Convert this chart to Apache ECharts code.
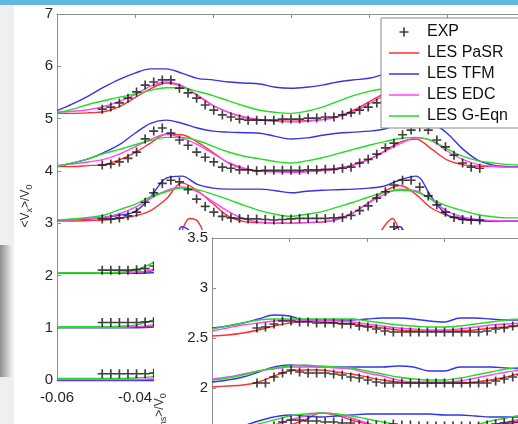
<!DOCTYPE html>
<html><head><meta charset="utf-8">
<script src="https://cdn.jsdelivr.net/npm/echarts@6/dist/echarts.min.js"></script>
<style>html,body{margin:0;padding:0;background:#fff;overflow:hidden}#c{width:518px;height:424px}</style>
</head><body><div id="c"></div>
<script>
// ---------- data ----------
// main chart model x grid
const X = [-0.06,-0.056,-0.052,-0.048,-0.044,-0.04,-0.036,-0.032,-0.028,-0.024,-0.02,-0.016,-0.012,-0.008,-0.004,0,0.004,0.008,0.012,0.016,0.02,0.024,0.028,0.032,0.036,0.04,0.044,0.048,0.052,0.056,0.06];
// level-2 profile x grid (narrow peaks)
const L2X = [-0.06,-0.052,-0.044,-0.04,-0.036,-0.032,-0.03,-0.028,-0.026,-0.024,-0.022,-0.02,-0.014,-0.006,0,0.006,0.014,0.02,0.022,0.024,0.026,0.028,0.03,0.032,0.036,0.04,0.044,0.052,0.06];
// experiment x positions
const EX = [-0.0484,-0.0462,-0.044,-0.0418,-0.0396,-0.0374,-0.0352,-0.033,-0.0308,-0.0286,-0.0264,-0.0242,-0.022,-0.0198,-0.0176,-0.0154,-0.0132,-0.011,-0.0088,-0.0066,-0.0044,-0.0022,0,0.0022,0.0044,0.0066,0.0088,0.011,0.0132,0.0154,0.0176,0.0198,0.022,0.0242,0.0264,0.0286,0.0308,0.033,0.0352,0.0374,0.0396,0.0418,0.044,0.0462,0.0484];
// inset x grid
const IX = [-0.06,-0.056,-0.052,-0.048,-0.044,-0.04,-0.036,-0.032,-0.028,-0.024,-0.02,-0.016,-0.012,-0.008,-0.004,0,0.004,0.008,0.012,0.016,0.02,0.024];

// main: <Vx>/V0 profiles (offset levels 5..0)
const PASR_L5 = [5.10,5.10,5.11,5.13,5.23,5.40,5.57,5.68,5.62,5.45,5.25,5.12,5.03,4.98,4.96,4.95,4.96,4.98,5.04,5.16,5.32,5.48,5.62,5.68,5.60,5.42,5.25,5.13,5.08,5.06,5.05];
const TFM_L5  = [5.15,5.28,5.43,5.60,5.75,5.87,5.95,5.95,5.87,5.77,5.74,5.70,5.68,5.66,5.60,5.58,5.60,5.64,5.70,5.74,5.77,5.85,5.93,5.97,5.93,5.77,5.58,5.40,5.27,5.17,5.12];
const EDC_L5  = [5.12,5.14,5.17,5.23,5.33,5.46,5.62,5.70,5.63,5.44,5.25,5.12,5.02,4.97,4.95,4.94,4.95,4.98,5.04,5.13,5.28,5.45,5.60,5.68,5.62,5.45,5.27,5.14,5.09,5.07,5.06];
const GEQN_L5 = [5.11,5.18,5.27,5.34,5.41,5.47,5.54,5.59,5.59,5.52,5.44,5.34,5.24,5.16,5.12,5.10,5.14,5.22,5.33,5.44,5.52,5.57,5.59,5.59,5.54,5.46,5.36,5.26,5.18,5.13,5.10];

const PASR_L4 = [4.08,4.08,4.10,4.12,4.21,4.35,4.53,4.70,4.69,4.55,4.35,4.15,4.04,4.00,3.99,3.98,3.99,4.01,4.05,4.11,4.22,4.38,4.55,4.61,4.42,4.21,4.12,4.09,4.08,4.07,4.07];
const TFM_L4  = [4.08,4.15,4.23,4.35,4.50,4.72,4.91,4.97,4.91,4.82,4.76,4.74,4.73,4.72,4.66,4.61,4.63,4.68,4.72,4.74,4.76,4.80,4.90,4.97,4.92,4.72,4.42,4.20,4.11,4.08,4.07];
const EDC_L4  = [4.10,4.13,4.17,4.22,4.32,4.46,4.60,4.70,4.63,4.50,4.33,4.16,4.05,3.99,3.98,3.97,3.98,4.00,4.04,4.12,4.22,4.37,4.52,4.63,4.58,4.38,4.22,4.12,4.09,4.07,4.07];
const GEQN_L4 = [4.08,4.15,4.23,4.33,4.41,4.50,4.58,4.64,4.64,4.58,4.47,4.36,4.28,4.23,4.18,4.15,4.19,4.25,4.33,4.41,4.49,4.56,4.62,4.64,4.58,4.42,4.28,4.19,4.15,4.12,4.11];

const PASR_L3 = [3.04,3.04,3.05,3.06,3.09,3.14,3.24,3.46,3.77,3.62,3.37,3.13,3.03,3.01,3.00,3.00,3.01,3.02,3.08,3.20,3.40,3.61,3.72,3.55,3.29,3.15,3.07,3.05,3.04,3.04,3.04];
const TFM_L3  = [3.06,3.07,3.08,3.11,3.15,3.22,3.50,3.86,3.90,3.74,3.67,3.65,3.65,3.65,3.62,3.58,3.61,3.63,3.64,3.65,3.67,3.71,3.83,3.90,3.50,3.16,3.09,3.05,3.04,3.04,3.04];
const EDC_L3  = [3.06,3.07,3.09,3.11,3.18,3.30,3.47,3.62,3.69,3.60,3.41,3.22,3.08,3.02,3.00,3.00,3.01,3.03,3.07,3.20,3.39,3.55,3.65,3.62,3.45,3.23,3.12,3.07,3.05,3.04,3.04];
const GEQN_L3 = [3.06,3.08,3.11,3.15,3.26,3.36,3.50,3.60,3.67,3.64,3.55,3.45,3.34,3.24,3.17,3.13,3.17,3.22,3.31,3.40,3.50,3.59,3.63,3.60,3.46,3.33,3.24,3.16,3.12,3.10,3.10];

const PASR_L2 = [2.05,2.05,2.05,2.06,2.08,2.20,2.45,2.85,3.09,3.04,2.75,2.45,2.12,2.05,2.04,2.05,2.12,2.45,2.70,2.95,3.09,2.80,2.45,2.20,2.08,2.06,2.05,2.05,2.05];
const TFM_L2  = [2.04,2.04,2.04,2.04,2.05,2.10,2.40,2.93,2.85,2.50,2.35,2.30,2.28,2.28,2.25,2.28,2.28,2.30,2.40,2.55,2.85,2.93,2.45,2.15,2.06,2.05,2.04,2.04,2.04];
const EDC_L2  = [2.05,2.05,2.05,2.06,2.10,2.25,2.40,2.55,2.65,2.65,2.55,2.45,2.20,2.07,2.05,2.07,2.20,2.45,2.55,2.65,2.65,2.55,2.40,2.25,2.10,2.06,2.05,2.05,2.05];
const GEQN_L2 = [2.05,2.05,2.06,2.10,2.22,2.38,2.45,2.52,2.57,2.60,2.60,2.58,2.45,2.30,2.25,2.30,2.45,2.58,2.60,2.60,2.57,2.52,2.45,2.38,2.22,2.10,2.06,2.05,2.05];

const PASR_L1 = [1.01,1.01,1.01,1.01,1.01,1.01,1.02,1.06];
const TFM_L1  = [1.00,1.00,1.00,1.00,1.00,1.00,1.01,1.03];
const EDC_L1  = [1.01,1.01,1.01,1.01,1.01,1.02,1.05,1.10];
const GEQN_L1 = [1.02,1.02,1.02,1.02,1.03,1.05,1.13,1.28];

const PASR_L0 = [0.00,0.00,0.00,0.00,0.00,0.00,0.01,0.03];
const TFM_L0  = [-0.01,-0.01,-0.01,-0.01,-0.01,-0.01,-0.01,0.00];
const EDC_L0  = [0.01,0.01,0.01,0.01,0.01,0.01,0.02,0.04];
const GEQN_L0 = [0.03,0.03,0.03,0.03,0.03,0.04,0.06,0.10];

const EXP_L5 = [5.18,5.22,5.30,5.39,5.51,5.64,5.70,5.74,5.74,5.58,5.49,5.39,5.26,5.16,5.07,5.03,4.99,4.97,4.97,4.97,4.97,4.99,4.99,4.99,5.01,5.01,5.03,5.03,5.07,5.11,5.16,5.22,5.30,5.40,5.50,5.62,5.70,5.74,5.70,5.58,5.45,5.32,5.20,5.12,5.10];
const EXP_L4 = [4.11,4.13,4.17,4.24,4.36,4.61,4.76,4.82,4.72,4.59,4.49,4.36,4.26,4.17,4.07,4.05,4.02,4.02,4.00,4.01,4.01,4.01,4.01,4.01,4.02,4.02,4.03,4.03,4.05,4.07,4.15,4.22,4.32,4.44,4.53,4.69,4.78,4.84,4.78,4.59,4.46,4.30,4.15,4.07,4.05];
const EXP_L3 = [3.08,3.08,3.10,3.14,3.21,3.40,3.58,3.76,3.82,3.79,3.64,3.46,3.32,3.21,3.13,3.10,3.09,3.08,3.08,3.07,3.06,3.07,3.08,3.09,3.09,3.09,3.09,3.10,3.11,3.15,3.24,3.33,3.48,3.60,3.73,3.82,3.82,3.69,3.52,3.35,3.21,3.11,3.07,3.06,3.06];
const EXP_L2 = [2.10,2.10,2.10,2.10,2.11,2.13,2.18,2.35,2.60,2.78,2.75,2.55,2.38,2.25,2.18,2.14,2.12,2.11,2.10,2.10,2.10,2.10,2.10,2.10,2.10,2.10,2.11,2.12,2.14,2.18,2.25,2.38,2.55,2.75,2.93,2.80,2.55,2.35,2.20,2.14,2.11,2.10,2.10,2.10,2.10];
const EXP_L1 = [1.10,1.10,1.10,1.10,1.10,1.11,1.12];
const EXP_L0 = [0.12,0.12,0.12,0.12,0.12,0.12,0.13];

// inset: <Vrms>/V0 profiles
const I_PASR_25 = [2.52,2.53,2.55,2.58,2.62,2.65,2.67,2.66,2.65,2.64,2.62,2.60,2.58,2.57,2.57,2.57,2.57,2.58,2.60,2.61,2.62,2.63];
const I_TFM_25  = [2.60,2.62,2.65,2.69,2.73,2.72,2.68,2.68,2.68,2.68,2.69,2.70,2.70,2.69,2.67,2.66,2.70,2.70,2.69,2.68,2.68,2.69];
const I_EDC_25  = [2.57,2.60,2.63,2.65,2.67,2.68,2.68,2.67,2.67,2.66,2.64,2.62,2.60,2.59,2.58,2.58,2.59,2.61,2.63,2.64,2.65,2.66];
const I_GEQN_25 = [2.59,2.62,2.65,2.68,2.69,2.69,2.69,2.69,2.69,2.69,2.67,2.65,2.63,2.62,2.61,2.61,2.62,2.64,2.66,2.68,2.69,2.70];

const I_PASR_2 = [2.01,2.02,2.03,2.06,2.12,2.17,2.18,2.18,2.16,2.14,2.11,2.08,2.06,2.05,2.05,2.05,2.05,2.06,2.08,2.11,2.15,2.17];
const I_TFM_2  = [2.06,2.08,2.11,2.16,2.21,2.23,2.22,2.21,2.21,2.21,2.21,2.21,2.22,2.21,2.17,2.17,2.21,2.21,2.21,2.20,2.19,2.19];
const I_EDC_2  = [2.09,2.11,2.14,2.17,2.19,2.21,2.21,2.21,2.20,2.19,2.15,2.12,2.08,2.06,2.06,2.06,2.07,2.10,2.13,2.16,2.18,2.19];
const I_GEQN_2 = [2.08,2.10,2.13,2.17,2.20,2.22,2.23,2.22,2.21,2.20,2.17,2.14,2.11,2.09,2.08,2.08,2.10,2.13,2.16,2.19,2.21,2.22];

const I_PASR_15 = [1.45,1.47,1.50,1.54,1.58,1.63,1.68,1.75,1.73,1.68,1.64,1.60,1.57,1.56,1.55,1.55,1.56,1.58,1.61,1.64,1.66,1.68];
const I_TFM_15  = [1.55,1.58,1.62,1.67,1.71,1.73,1.72,1.71,1.72,1.73,1.74,1.74,1.74,1.74,1.74,1.73,1.73,1.72,1.71,1.71,1.71,1.71];
const I_EDC_15  = [1.50,1.52,1.55,1.59,1.63,1.68,1.72,1.75,1.74,1.70,1.65,1.61,1.58,1.57,1.56,1.56,1.57,1.60,1.63,1.66,1.69,1.70];
const I_GEQN_15 = [1.52,1.55,1.59,1.64,1.68,1.72,1.74,1.75,1.74,1.72,1.69,1.66,1.63,1.60,1.59,1.59,1.60,1.63,1.67,1.70,1.73,1.74];

const I_EXP_25 = [2.60,2.61,2.64,2.67,2.67,2.66,2.66,2.65,2.65,2.65,2.64,2.64,2.62,2.61,2.59,2.57,2.56,2.56,2.56,2.56,2.56,2.56,2.56,2.56,2.56,2.56,2.56,2.57,2.59,2.60,2.62,2.63];
const I_EXP_2  = [2.05,2.05,2.11,2.15,2.18,2.16,2.15,2.15,2.15,2.14,2.13,2.11,2.10,2.08,2.06,2.05,2.05,2.05,2.05,2.05,2.05,2.05,2.05,2.05,2.05,2.05,2.05,2.05,2.07,2.09,2.11,2.13];
const I_EXP_15 = [1.55,1.58,1.62,1.66,1.68,1.68,1.67,1.67,1.66,1.66,1.65,1.65,1.63,1.63,1.63,1.63,1.64,1.63,1.63,1.62,1.62,1.62,1.62,1.62,1.62,1.62,1.62,1.63,1.64,1.65,1.66,1.67];

const X_TICKS = {min:-0.06, max:0.06, interval:0.02};
const MAIN_Y = {min:0, max:7, interval:1};
const INSET_Y = {min:0, max:3.5, interval:0.5};

// ---------- chart ----------
const FONT = "'Liberation Sans', Arial, Helvetica, sans-serif";
const AX = '#8e8e8e';
const PLUS = 'path://M-1.5,-8L1.5,-8L1.5,-1.5L8,-1.5L8,1.5L1.5,1.5L1.5,8L-1.5,8L-1.5,1.5L-8,1.5L-8,-1.5L-1.5,-1.5Z';
const PLUS_LEG = PLUS + 'M-12.5,-12.5L-12.45,-12.5L-12.5,-12.45ZM12.5,12.5L12.45,12.5L12.5,12.45Z';
const LINE_LEG = 'path://M0,6.25L30,6.25L30,7.75L0,7.75Z';
const COLORS = {pasr:'#ff3030', tfm:'#3535e6', edc:'#ff45ff', geqn:'#22dd22'};
const NAMES = {pasr:'LES PaSR', tfm:'LES TFM', edc:'LES EDC', geqn:'LES G-Eqn'};

const MAIN = [
  {x:X,   pasr:PASR_L5, tfm:TFM_L5, edc:EDC_L5, geqn:GEQN_L5},
  {x:X,   pasr:PASR_L4, tfm:TFM_L4, edc:EDC_L4, geqn:GEQN_L4},
  {x:X,   pasr:PASR_L3, tfm:TFM_L3, edc:EDC_L3, geqn:GEQN_L3},
  {x:L2X, pasr:PASR_L2, tfm:TFM_L2, edc:EDC_L2, geqn:GEQN_L2},
  {x:X,   pasr:PASR_L1, tfm:TFM_L1, edc:EDC_L1, geqn:GEQN_L1},
  {x:X,   pasr:PASR_L0, tfm:TFM_L0, edc:EDC_L0, geqn:GEQN_L0}
];
const INSET = [
  {pasr:I_PASR_25, tfm:I_TFM_25, edc:I_EDC_25, geqn:I_GEQN_25},
  {pasr:I_PASR_2,  tfm:I_TFM_2,  edc:I_EDC_2,  geqn:I_GEQN_2},
  {pasr:I_PASR_15, tfm:I_TFM_15, edc:I_EDC_15, geqn:I_GEQN_15}
];
const MAIN_EXP = [EXP_L5, EXP_L4, EXP_L3, EXP_L2, EXP_L1, EXP_L0];
const INSET_EXP = [I_EXP_25, I_EXP_2, I_EXP_15];

function pairs(xs, ys){ return ys.map((y,i)=>[xs[i], y]); }

const series = [];
series.push({name:'EXP', type:'scatter', symbol:PLUS, symbolSize:9, itemStyle:{color:'#111'},
  data:[].concat(...MAIN_EXP.map(a=>pairs(EX,a))), z:3, silent:true});
['pasr','tfm','edc','geqn'].forEach(k=>{
  MAIN.forEach(lv=>series.push({name:NAMES[k], type:'line', data:pairs(lv.x, lv[k]),
    symbol:'none', showSymbol:false, smooth:0.35, clip:false, silent:true, z:2,
    lineStyle:{width:1.4, color:COLORS[k]}, itemStyle:{color:COLORS[k]}}));
});
['pasr','tfm','edc','geqn'].forEach(k=>{
  INSET.forEach(lv=>series.push({name:NAMES[k], type:'line', xAxisIndex:2, yAxisIndex:1,
    data:pairs(IX, lv[k]), symbol:'none', showSymbol:false, smooth:0.35, silent:true, z:10,
    lineStyle:{width:1.4, color:COLORS[k]}, itemStyle:{color:COLORS[k]}}));
});
series.push({name:'EXP', type:'scatter', xAxisIndex:2, yAxisIndex:1, symbol:PLUS, symbolSize:9,
  itemStyle:{color:'#111'}, data:[].concat(...INSET_EXP.map(a=>pairs(EX,a))), z:11, silent:true});

const tickStyle = {show:true, inside:true, length:4, lineStyle:{color:AX}};
const lineStyle = {show:true, onZero:false, lineStyle:{color:AX, width:1}};
const lbl = {color:'#262626', fontSize:15, fontFamily:FONT};

function xAx(grid, pos, showLabel, z){
  return Object.assign({type:'value', gridIndex:grid, position:pos, z:z,
    axisLine:lineStyle, axisTick:tickStyle, splitLine:{show:false},
    axisLabel:Object.assign({show:showLabel, margin:10}, lbl)}, X_TICKS);
}

const option = {
  animation:false,
  backgroundColor:'#ffffff',
  graphic:[
    {type:'rect', z:0, silent:true, shape:{x:0,y:0,width:14,height:424}, style:{fill:'#efefef'}},
    {type:'rect', z:0, silent:true, shape:{x:0,y:245,width:11,height:132},
      style:{fill:new echarts.graphic.LinearGradient(0,0,1,0,[{offset:0,color:'#8c8c8c'},{offset:1,color:'#e6e6e6'}])}},
    {type:'rect', z:0, silent:true, shape:{x:0,y:0,width:518,height:5}, style:{fill:'#62b7e1'}},
    {type:'rect', z:5, silent:true, shape:{x:154,y:230,width:370,height:200}, style:{fill:'#ffffff'}}
  ],
  legend:{
    orient:'vertical', left:381, top:18, z:20, selectedMode:false,
    backgroundColor:'#ffffff', borderColor:'#8a8a8a', borderWidth:1, borderRadius:0,
    padding:[6,14,4,8], itemWidth:30, itemHeight:14, itemGap:5,
    textStyle:{fontSize:16, lineHeight:14, color:'#111', fontFamily:FONT, padding:[0,0,0,3]},
    data:[{name:'EXP', icon:PLUS_LEG},
      {name:'LES PaSR', icon:LINE_LEG}, {name:'LES TFM', icon:LINE_LEG},
      {name:'LES EDC', icon:LINE_LEG}, {name:'LES G-Eqn', icon:LINE_LEG}]
  },
  grid:[
    {left:57, top:14, width:468, height:366, outerBoundsMode:'none', containLabel:false},
    {left:212, top:238, width:465, height:350, outerBoundsMode:'none', containLabel:false}
  ],
  xAxis:[
    xAx(0,'bottom',true,0),
    xAx(0,'top',false,0),
    xAx(1,'bottom',false,10),
    xAx(1,'top',false,10)
  ],
  yAxis:[
    Object.assign({type:'value', gridIndex:0, position:'left', z:0,
      axisLine:lineStyle, axisTick:tickStyle, splitLine:{show:false},
      axisLabel:Object.assign({margin:4}, lbl),
      name:'{n|<V}{s|x}{n|>/V}{s|0}', nameLocation:'middle', nameGap:20,
      nameTextStyle:{padding:[0,18,0,0], rich:{
        n:{fontSize:12, lineHeight:16, color:'#333', fontFamily:FONT},
        s:{fontSize:9, lineHeight:9, verticalAlign:'bottom', color:'#333', fontFamily:FONT}}}
    }, MAIN_Y),
    Object.assign({type:'value', gridIndex:1, position:'left', z:10,
      axisLine:lineStyle, axisTick:tickStyle, splitLine:{show:false},
      axisLabel:Object.assign({margin:4}, lbl),
      name:'{n|<V}{s|rms}{n|>/V}{s|0}', nameLocation:'middle', nameGap:44,
      nameTextStyle:{padding:[0,14,0,0], rich:{
        n:{fontSize:12, lineHeight:16, color:'#333', fontFamily:FONT},
        s:{fontSize:9, lineHeight:9, verticalAlign:'bottom', color:'#333', fontFamily:FONT}}}
    }, INSET_Y)
  ],
  series:series
};
const chart = echarts.init(document.getElementById('c'), null, {renderer:'canvas'});
chart.setOption(option);
</script>
</body></html>
